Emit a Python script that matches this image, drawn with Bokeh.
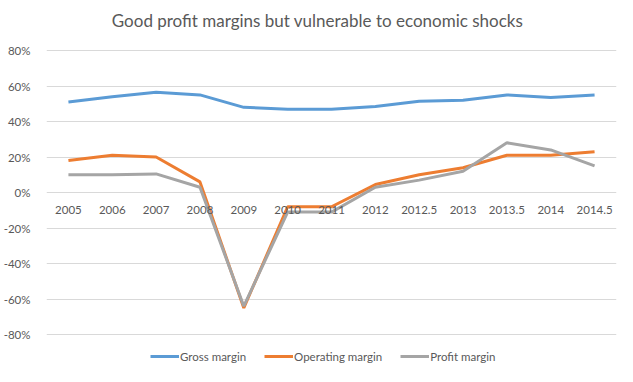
from bokeh.plotting import figure
from bokeh.models import FactorRange, Range1d, NumeralTickFormatter, FixedTicker, Legend, LegendItem, ColumnDataSource
from bokeh.core.properties import value
from bokeh.embed import file_html
from bokeh.resources import INLINE

periods = ["2005", "2006", "2007", "2008", "2009", "2010", "2011", "2012",
           "2012.5", "2013", "2013.5", "2014", "2014.5"]
gross_margin = [0.51, 0.54, 0.565, 0.55, 0.48, 0.47, 0.47, 0.485, 0.515, 0.52, 0.55, 0.535, 0.55]
operating_margin = [0.18, 0.21, 0.20, 0.06, -0.65, -0.08, -0.08, 0.045, 0.10, 0.14, 0.21, 0.21, 0.23]
profit_margin = [0.10, 0.10, 0.105, 0.03, -0.64, -0.11, -0.11, 0.03, 0.07, 0.12, 0.28, 0.24, 0.15]
y_ticks = [-0.8, -0.6, -0.4, -0.2, 0.0, 0.2, 0.4, 0.6, 0.8]
title_text = "Good profit margins but vulnerable to economic shocks"

FONT = "Lato"
TXT = "#595959"

yr = Range1d(-0.98, 1.082)
p = figure(width=617, height=366, x_range=FactorRange(*periods),
           y_range=yr, output_backend="svg", toolbar_location=None,
           min_border_left=45, min_border_right=1, min_border_top=0, min_border_bottom=0)
p.outline_line_color = None

p.xaxis.visible = False
p.xgrid.grid_line_color = None
p.ygrid.grid_line_color = "#d9d9d9"
p.ygrid.grid_line_width = 1
p.yaxis.ticker = FixedTicker(ticks=y_ticks)
p.yaxis.formatter = NumeralTickFormatter(format="0%")
p.yaxis.axis_line_color = None
p.yaxis.major_tick_line_color = None
p.yaxis.minor_tick_line_color = None
p.yaxis.major_label_text_font = FONT
p.yaxis.major_label_text_font_size = "11.5px"
p.yaxis.major_label_text_color = TXT
p.yaxis.major_label_standoff = 10

src = ColumnDataSource(dict(x=periods, g=gross_margin, o=operating_margin, pm=profit_margin,
                            zero=[0.0] * len(periods)))

r1 = p.line("x", "g", source=src, line_color="#5B9BD5", line_width=3)
r2 = p.line("x", "o", source=src, line_color="#ED7D31", line_width=3)
r3 = p.line("x", "pm", source=src, line_color="#A5A5A5", line_width=3)

p.text(x="x", y="zero", text="x", source=src, text_align="center", text_baseline="middle",
       y_offset=17, text_font=value(FONT), text_font_size="11.5px", text_color=TXT)

# chart title, anchored at the top edge of the plotting area
p.text(x=[periods[6]], y=[yr.end], text=[title_text], text_align="center", text_baseline="middle",
       x_offset=-14, y_offset=20, text_font=value(FONT), text_font_size="17px", text_color=TXT)

legend = Legend(items=[LegendItem(label="Gross margin", renderers=[r1]),
                       LegendItem(label="Operating margin", renderers=[r2]),
                       LegendItem(label="Profit margin", renderers=[r3])],
                orientation="horizontal", location=(104, 0),
                label_text_font=FONT, label_text_font_size="11.5px", label_text_color=TXT,
                glyph_width=29, label_standoff=1, spacing=18, border_line_color=None,
                background_fill_alpha=0, padding=0, margin=0)
p.add_layout(legend)

open("out.html", "w").write(file_html(p, INLINE))
